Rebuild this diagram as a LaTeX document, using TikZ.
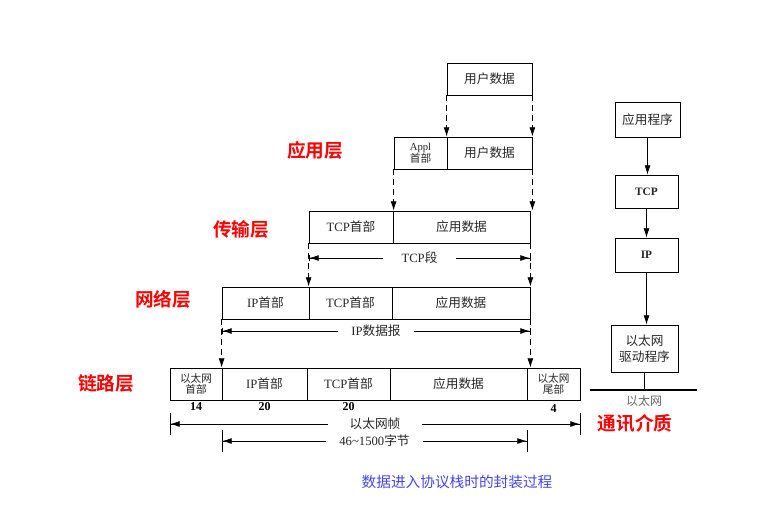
\documentclass[tikz,border=0pt]{standalone}
\usepackage{fontspec}
\setmainfont{Liberation Serif}
\newfontfamily\cjk{Noto Sans CJK SC}
\newfontfamily\cjkb{Noto Sans CJK SC Bold}
\usetikzlibrary{arrows.meta}
\definecolor{capblue}{RGB}{70,70,230}
\tikzset{
  fld/.style={draw, rectangle, inner sep=0pt, minimum height=24pt, align=center,
    font=\fontsize{9.5}{10}\selectfont, text=black!85},
  small/.style={font=\fontsize{8}{8.6}\selectfont},
  lyr/.style={text=red, font=\cjkb\fontsize{14}{16}\selectfont},
  num/.style={anchor=north, inner sep=1pt, font=\bfseries\fontsize{9}{10}\selectfont},
  down/.style={dash pattern=on 4.5pt off 3pt, -{Latex[length=7pt,width=4.5pt]}},
  dimtxt/.style={midway, fill=white, inner xsep=10pt, inner ysep=1pt, text=black!85,
    font=\fontsize{9.5}{10}\selectfont},
  dimext/.style={{Bar[width=5pt]Latex[length=7pt,width=4.5pt]}-{Latex[length=7pt,width=4.5pt]Bar[width=5pt]}},
  dimbar/.style={{Bar[width=17pt]Latex[length=7pt,width=4.5pt]}-{Latex[length=7pt,width=4.5pt]Bar[width=17pt]}},
  flow/.style={-{Latex[length=7pt,width=4.5pt]}}
}
\begin{document}
\begin{tikzpicture}[x=0.75pt,y=0.75pt,yscale=-1,xscale=1,line width=0.6pt]
\useasboundingbox (0,0) rectangle (783,507);

% user data
\node[fld, minimum width=63.75pt] (usr) at (489.5,79) {\cjk 用户数据};

% application layer
\node[fld, small, minimum width=39.75pt] (applh) at (420.5,153) {Appl\\{\cjk 首部}};
\node[fld, minimum width=63.75pt] (usr2) at (489.5,153) {\cjk 用户数据};

% transport layer
\node[fld, minimum width=63pt] (tcph3) at (351,227) {TCP{\cjk 首部}};
\node[fld, minimum width=102.75pt] (app3) at (461.5,227) {\cjk 应用数据};

% network layer
\node[fld, minimum width=65.25pt] (iph4) at (265.5,303) {IP{\cjk 首部}};
\node[fld, minimum width=62.25pt] (tcph4) at (350.5,303) {TCP{\cjk 首部}};
\node[fld, minimum width=103.5pt] (app4) at (461,303) {\cjk 应用数据};

% link layer
\node[fld, small, minimum width=39pt] (ethh) at (196,384) {\cjk 以太网\\\cjk 首部};
\node[fld, minimum width=63.75pt] (iph5) at (264.5,384) {IP{\cjk 首部}};
\node[fld, minimum width=62.25pt] (tcph5) at (348.5,384) {TCP{\cjk 首部}};
\node[fld, minimum width=102.75pt] (app5) at (458.5,384) {\cjk 应用数据};
\node[fld, small, minimum width=39.75pt] (etht) at (553.5,384) {\cjk 以太网\\\cjk 尾部};

% byte counts
\node[num] (n14) at (ethh.south) {14};
\node[num] (n20a) at (iph5.south) {20};
\node[num] (n20b) at (tcph5.south) {20};
\node[num, yshift=-2pt] (n4) at (etht.south) {4};

% dashed arrows between layers
\draw[down] (usr.south west) -- (usr.south west |- applh.north);
\draw[down] (usr.south east) -- (usr.south east |- usr2.north);
\draw[down] (applh.south west) -- (applh.south west |- tcph3.north);
\draw[down] (usr2.south east) -- (usr2.south east |- app3.north);
\draw[down] (tcph3.south west) -- (tcph3.south west |- tcph4.north);
\draw[down] (app3.south east) -- (app3.south east |- app4.north);
\draw[down] (iph4.south west) -- (iph4.south west |- iph5.north);
\draw[down] (app4.south east) -- (app4.south east |- app5.north);

% dimension lines
\coordinate (segy) at (0,258);
\coordinate (dgy) at (0,331);
\coordinate (fry) at (0,424);
\coordinate (ply) at (0,441);
\draw[dimext] (tcph3.south west |- segy) -- (app3.south east |- segy)
  node[dimtxt, inner xsep=14pt] {TCP{\cjk 段}};
\draw[dimext] (iph4.south west |- dgy) -- (app4.south east |- dgy)
  node[dimtxt] {IP{\cjk 数据报}};
\draw[dimbar] (ethh.west |- fry) -- (etht.east |- fry)
  node[dimtxt, inner xsep=16pt] {\cjk 以太网帧};
\draw[dimbar] (iph5.west |- ply) -- (app5.east |- ply)
  node[dimtxt] {46\textasciitilde1500{\cjk 字节}};

% layer names
\node[lyr] (lapp) at (315,150) {应用层};
\node[lyr] (ltrn) at (241,229) {传输层};
\node[lyr] (lnet) at (163,299) {网络层};
\node[lyr] (llnk) at (106,383) {链路层};

% protocol stack
\node[fld, minimum width=48.75pt, minimum height=26.25pt] (prog) at (647.5,119.5) {\cjk 应用程序};
\node[fld, minimum width=47.25pt, minimum height=24.75pt, font=\bfseries\fontsize{8.5}{9}\selectfont] (tcp) at (646.5,191.5) {TCP};
\node[fld, minimum width=47.25pt, minimum height=25.5pt, font=\bfseries\fontsize{8.5}{9}\selectfont] (ip) at (646.5,255) {IP};
\node[fld, minimum width=50.25pt, minimum height=35.25pt, font=\fontsize{9.5}{12}\selectfont] (drv) at (644.5,348.5) {\cjk 以太网\\\cjk 驱动程序};
\draw[flow] (prog.south) -- (prog.south |- tcp.north);
\draw[flow] (tcp.south) -- (tcp.south |- ip.north);
\draw[flow] (ip.south) -- (ip.south |- drv.north);

% medium
\coordinate (medl) at (590,390);
\coordinate (medr) at (697,390);
\draw[line width=1.5pt] (medl) -- (medr);
\draw (drv.south) -- (drv.south |- medl);
\node[text=black!60, font=\cjk\fontsize{9}{10}\selectfont] (medtxt) at (644,401) {以太网};
\node[lyr] (lmed) at (635,423) {通讯介质};

% caption
\node[text=capblue, font=\cjk\fontsize{11}{12}\selectfont] (cap) at (457,482) {数据进入协议栈时的封装过程};

\end{tikzpicture}
\end{document}
